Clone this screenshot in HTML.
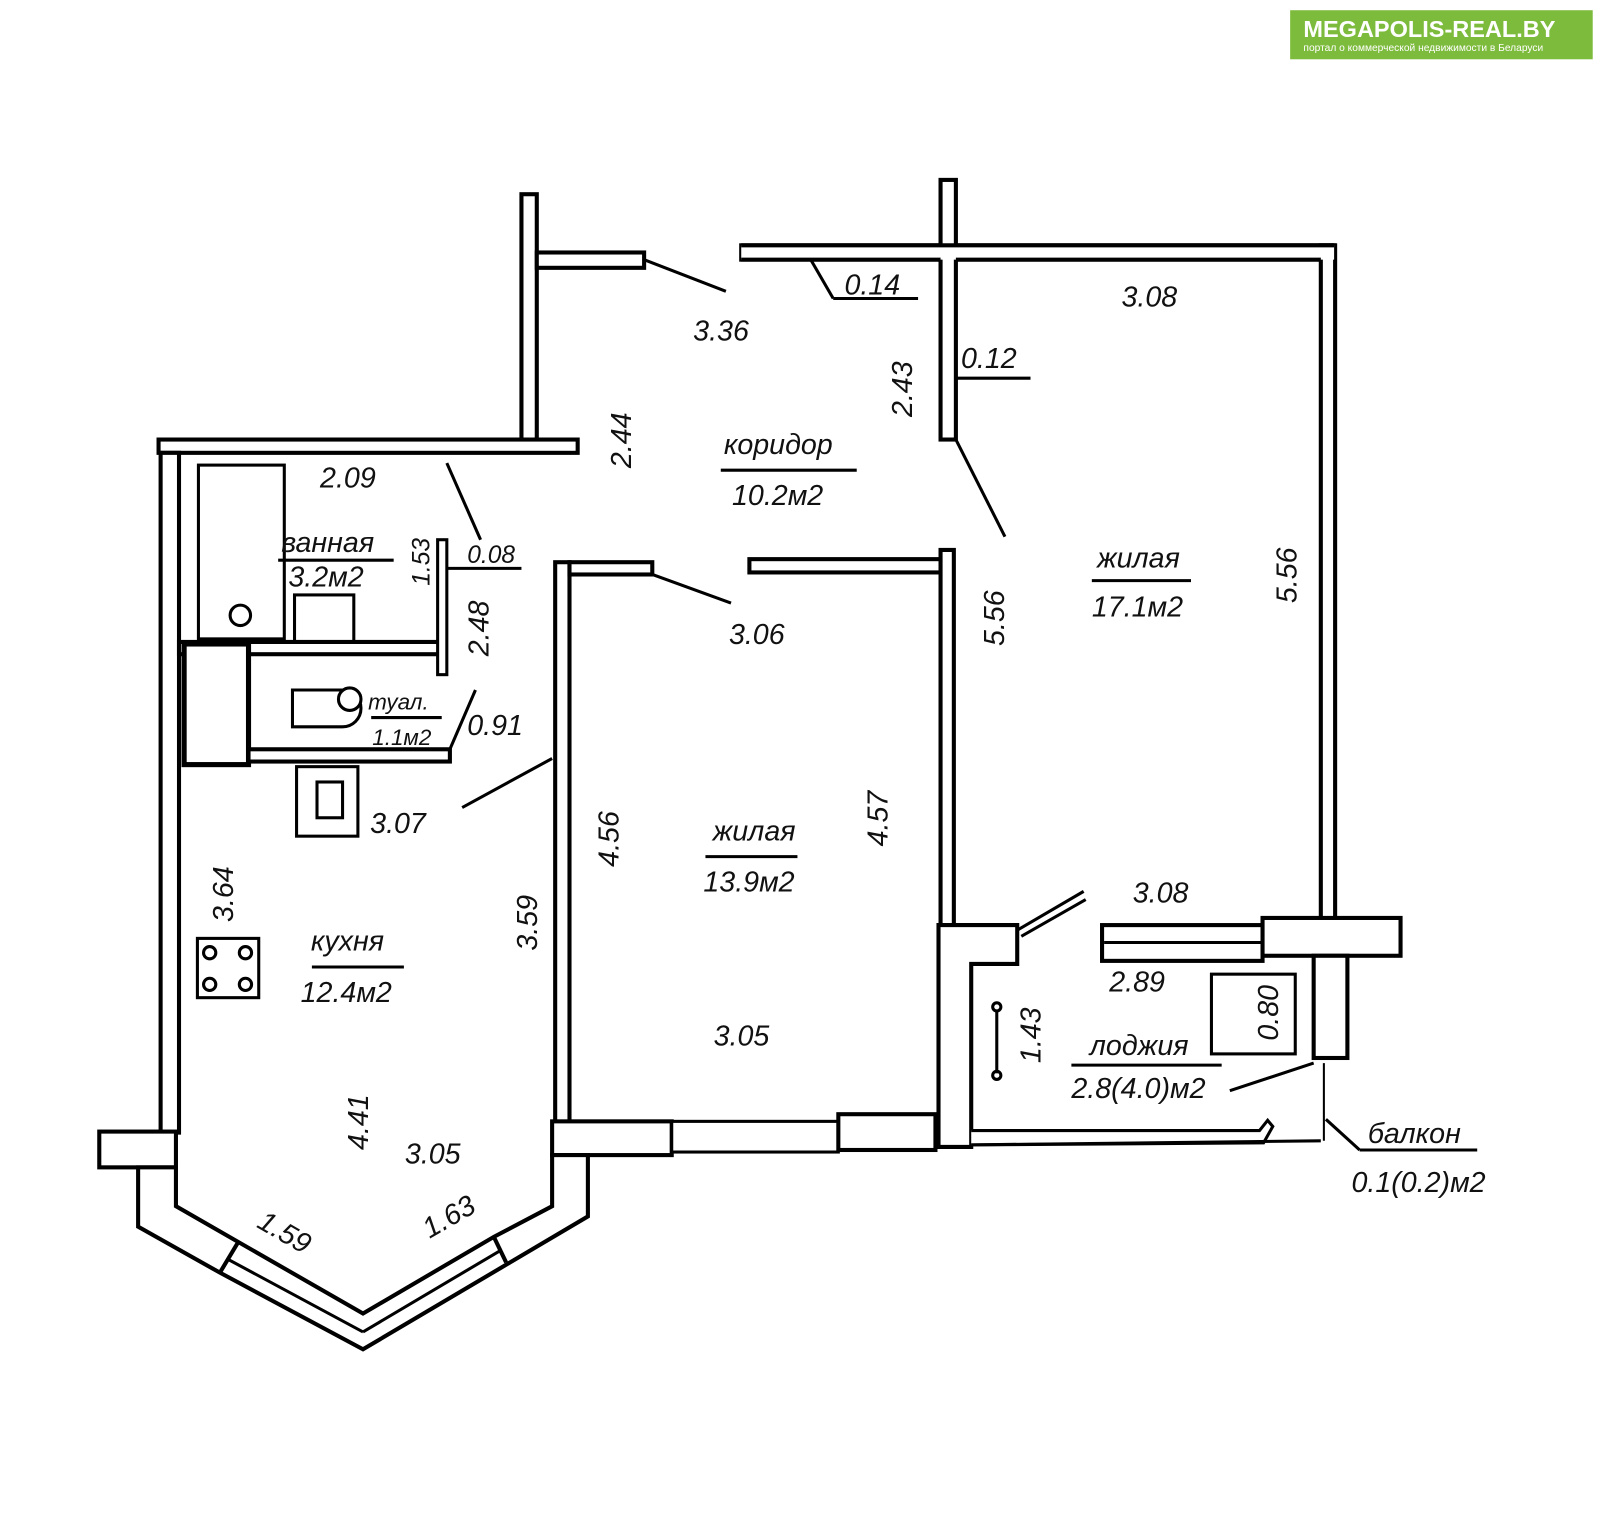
<!DOCTYPE html><html><head><meta charset="utf-8"><style>body{margin:0;background:#fff}svg{display:block}text{font-family:"Liberation Sans",sans-serif;font-style:italic;fill:#111}</style></head><body>
<svg width="1600" height="1519" viewBox="0 0 1565 1486" xmlns="http://www.w3.org/2000/svg">
<rect x="1262" y="10" width="296" height="48" fill="#7dbb3c"/>
<text x="1275" y="36" font-size="23" font-weight="bold" style="font-style:normal;fill:#fff">MEGAPOLIS-REAL.BY</text>
<text x="1275" y="50" font-size="10" style="font-style:normal;fill:#fff">портал о коммерческой недвижимости в Беларуси</text>
<g fill="#fff" stroke="#000" stroke-width="4">
<rect x="510" y="190" width="15" height="245"/>
<rect x="525" y="247" width="105" height="15"/>
<rect x="725" y="240" width="580" height="14"/>
<rect x="1292" y="240" width="14" height="660"/>
<rect x="920" y="176" width="15" height="254"/>
<rect x="725" y="240" width="580" height="14" stroke="none"/>
<line x1="725" y1="240" x2="1305" y2="240"/><line x1="725" y1="254" x2="920" y2="254"/><line x1="935" y1="254" x2="1292" y2="254"/>
<rect x="155" y="430" width="410" height="13"/>
<rect x="157" y="443" width="18" height="665"/>
<rect x="194" y="455" width="84" height="170" stroke-width="3"/>
<circle cx="235" cy="602" r="10" stroke-width="3"/>
<rect x="288" y="582" width="58" height="46" stroke-width="3"/>
<rect x="175" y="628" width="258" height="12"/>
<rect x="428" y="528" width="9" height="132" stroke-width="3"/>
<rect x="180" y="630" width="63" height="118" stroke-width="5"/>
<rect x="243" y="733" width="197" height="12"/>
<path d="M286 675 H335 A18 18 0 0 1 335 711 H286 Z" stroke-width="3"/>
<circle cx="342" cy="684" r="11" stroke-width="3"/>
<rect x="290" y="750" width="60" height="68" stroke-width="3"/>
<rect x="310" y="765" width="25" height="35" stroke-width="3"/>
<rect x="193" y="918" width="60" height="58" stroke-width="3"/>
<rect x="543" y="550" width="14" height="550"/>
<rect x="557" y="550" width="81" height="12"/>
<rect x="733" y="547" width="187" height="13"/>
<rect x="920" y="538" width="13" height="372"/>
<rect x="540" y="1097" width="117" height="33"/>
<rect x="657" y="1097" width="163" height="30" stroke-width="3"/>
<rect x="820" y="1090" width="95" height="35"/>
<path d="M918 905 H995 V943 H950 V1122 H918 Z"/>
<path d="M950 1106 H1232 L1240 1096 L1245 1102 L1236 1118 L950 1120" stroke-width="3"/>
<line x1="950" y1="1120" x2="1292" y2="1116" stroke-width="3"/>
<line x1="1295" y1="1040" x2="1295" y2="1116" stroke-width="2"/>
<rect x="1078" y="905" width="157" height="35"/>
<line x1="1080" y1="922" x2="1235" y2="922" stroke-width="3"/>
<rect x="1235" y="898" width="135" height="37"/>
<rect x="1285" y="935" width="33" height="100"/>
<rect x="1185" y="953" width="82" height="78" stroke-width="3"/>
<rect x="97" y="1107" width="75" height="35"/>
<path d="M135 1142 V1200 L215 1245 L355 1320 L575 1190 V1130 H540 V1180 L483 1210 L355 1285 L233 1215 L172 1180 V1142 Z"/>
<line x1="215" y1="1245" x2="233" y2="1215"/><line x1="483" y1="1210" x2="495" y2="1235"/>
<line x1="223" y1="1232" x2="355" y2="1303" stroke-width="3"/><line x1="355" y1="1303" x2="490" y2="1223" stroke-width="3"/>
</g>
<g stroke="#000" stroke-width="3" fill="none">
<line x1="630" y1="254" x2="710" y2="285"/>
<line x1="793" y1="254" x2="815" y2="292"/><line x1="815" y1="292" x2="898" y2="292"/>
<line x1="935" y1="370" x2="1008" y2="370"/>
<line x1="935" y1="430" x2="983" y2="525"/>
<line x1="437" y1="453" x2="470" y2="528"/><line x1="437" y1="556" x2="510" y2="556"/>
<line x1="440" y1="733" x2="465" y2="675"/>
<line x1="540" y1="742" x2="452" y2="790"/>
<line x1="638" y1="562" x2="715" y2="590"/>
<line x1="995" y1="910" x2="1060" y2="872"/><line x1="999" y1="916" x2="1062" y2="880"/>
<line x1="1203" y1="1067" x2="1285" y2="1040"/>
<line x1="1297" y1="1095" x2="1330" y2="1125"/><line x1="1330" y1="1125" x2="1445" y2="1125"/>
<line x1="975" y1="990" x2="975" y2="1050"/><circle cx="975" cy="985" r="4"/><circle cx="975" cy="1052" r="4"/>
<line x1="272" y1="548" x2="385" y2="548"/><line x1="363" y1="702" x2="432" y2="702"/>
<line x1="705" y1="460" x2="838" y2="460"/><line x1="690" y1="838" x2="780" y2="838"/>
<line x1="305" y1="946" x2="395" y2="946"/><line x1="1068" y1="568" x2="1165" y2="568"/>
<line x1="1048" y1="1042" x2="1195" y2="1042"/>
<circle cx="205" cy="932" r="6"/><circle cx="240" cy="932" r="6"/><circle cx="205" cy="963" r="6"/><circle cx="240" cy="963" r="6"/>
</g>
<g font-size="28">
<text x="678" y="333">3.36</text><text x="826" y="288">0.14</text><text x="1097" y="300">3.08</text>
<text x="940" y="360">0.12</text><text x="708" y="444">коридор</text><text x="716" y="494">10.2м2</text>
<text x="313" y="477">2.09</text><text x="275" y="540">ванная</text><text x="282" y="574">3.2м2</text>
<text x="457" y="551" font-size="24">0.08</text><text x="360" y="694" font-size="22">туал.</text><text x="364" y="729" font-size="22">1.1м2</text>
<text x="457" y="719">0.91</text><text x="362" y="815">3.07</text>
<text x="713" y="630">3.06</text><text x="1073" y="555">жилая</text><text x="1068" y="603">17.1м2</text>
<text x="697" y="822">жилая</text><text x="688" y="872">13.9м2</text><text x="1108" y="883">3.08</text>
<text x="304" y="930">кухня</text><text x="294" y="980">12.4м2</text><text x="698" y="1023">3.05</text>
<text x="1085" y="970">2.89</text><text x="1066" y="1032">лоджия</text><text x="1048" y="1074">2.8(4.0)м2</text>
<text x="396" y="1138">3.05</text><text x="1338" y="1118">балкон</text><text x="1322" y="1166">0.1(0.2)м2</text>
<text transform="translate(617,458) rotate(-90)">2.44</text>
<text transform="translate(892,408) rotate(-90)">2.43</text>
<text transform="translate(420,573) rotate(-90)" font-size="24">1.53</text>
<text transform="translate(478,642) rotate(-90)">2.48</text>
<text transform="translate(982,632) rotate(-90)">5.56</text>
<text transform="translate(1268,590) rotate(-90)">5.56</text>
<text transform="translate(605,848) rotate(-90)">4.56</text>
<text transform="translate(868,828) rotate(-90)">4.57</text>
<text transform="translate(228,902) rotate(-90)">3.64</text>
<text transform="translate(525,930) rotate(-90)">3.59</text>
<text transform="translate(1018,1040) rotate(-90)">1.43</text>
<text transform="translate(1250,1018) rotate(-90)">0.80</text>
<text transform="translate(360,1125) rotate(-90)">4.41</text>
<text transform="translate(250,1200) rotate(30)">1.59</text>
<text transform="translate(420,1212) rotate(-30)">1.63</text>
</g>
</svg></body></html>
